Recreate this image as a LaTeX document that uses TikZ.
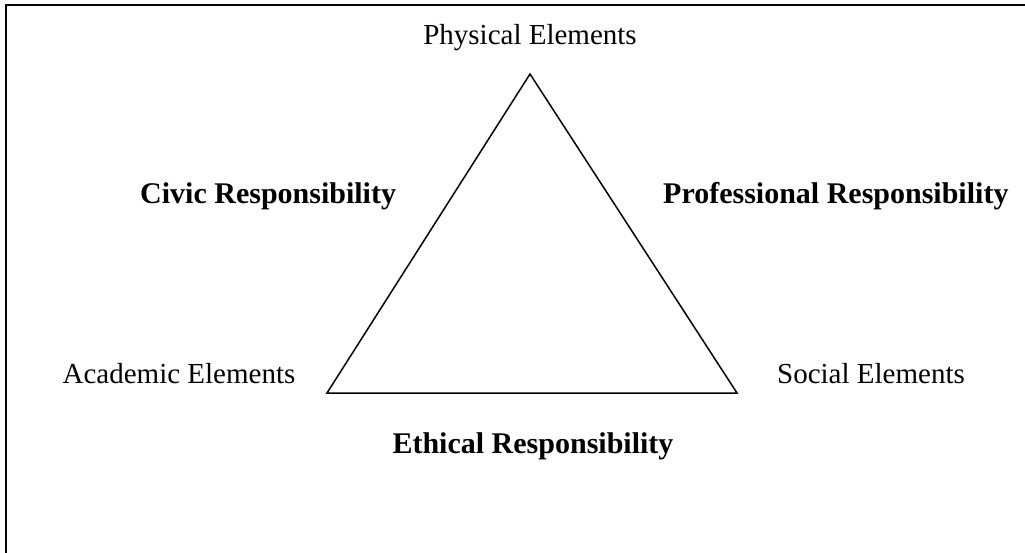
\documentclass[tikz,border=0pt]{standalone}
\usepackage{fontspec}
\setmainfont{Liberation Serif}
\begin{document}
\begin{tikzpicture}[
    x=1pt,y=-1pt,
    elem/.style={anchor=base,inner sep=0pt,font=\fontsize{29}{34}\selectfont},
    resp/.style={anchor=base west,inner sep=0pt,font=\fontsize{30}{36}\selectfont\bfseries},
    side/.style={draw=black,line width=1.5pt,line join=miter}
]
    \useasboundingbox (0,0) rectangle (1025,552);
    \clip (0,0) rectangle (1025,552);
    \draw[line width=2.5pt] (6,5) rectangle (1045,575);
    \coordinate (top) at (530,74);
    \coordinate (left) at (327,393);
    \coordinate (right) at (737,393);
    \draw[side] (top) -- (left) -- (right) -- cycle;
    \node[elem] (phys) at (530,44) {Physical Elements};
    \node[elem] (acad) at (179,383) {Academic Elements};
    \node[elem] (soc) at (871,383) {Social Elements};
    \node[resp] (civic) at (140,203) {Civic Responsibility};
    \node[resp] (prof) at (663,203) {Professional Responsibility};
    \node[resp,anchor=base] (eth) at (533,453) {Ethical Responsibility};
\end{tikzpicture}
\end{document}
